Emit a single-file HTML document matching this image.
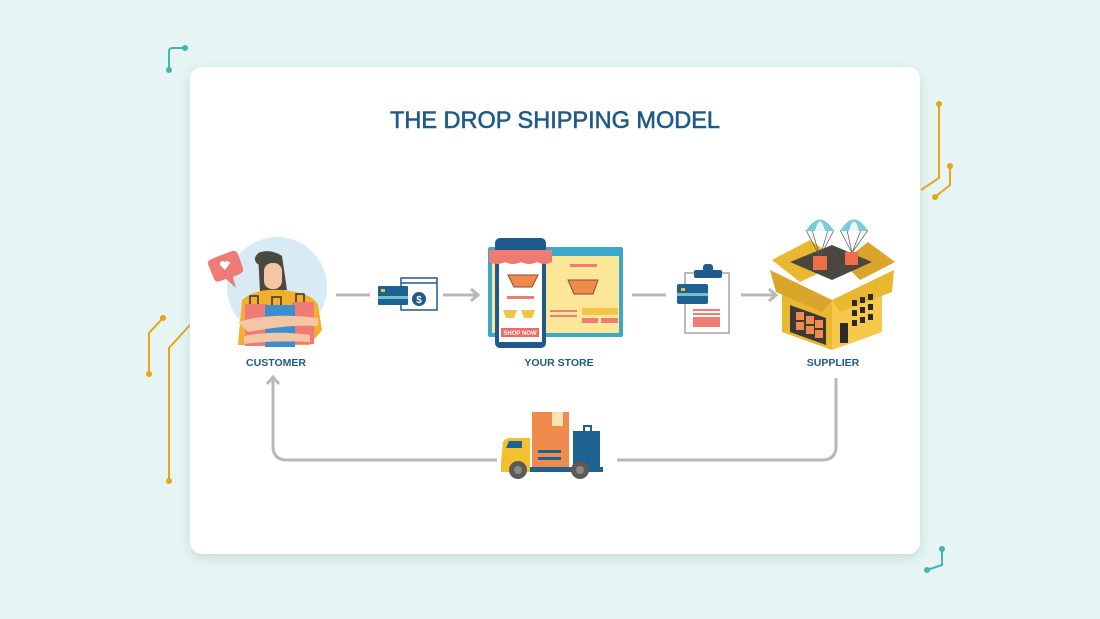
<!DOCTYPE html>
<html><head><meta charset="utf-8"><style>
html,body{margin:0;padding:0;background:#e6f5f3;}
svg{display:block}
text{font-family:"Liberation Sans",sans-serif;font-weight:bold;fill:#1f5a8a}
</style></head><body>
<svg width="1100" height="619" viewBox="0 0 1100 619" xmlns="http://www.w3.org/2000/svg">
<defs>
<filter id="sh" x="-5%" y="-5%" width="110%" height="115%"><feDropShadow dx="0" dy="4" stdDeviation="6" flood-color="#8aa" flood-opacity="0.35"/></filter>
</defs>
<rect x="0" y="0" width="1100" height="619" rx="14" fill="#e6f5f3"/>
<g fill="none" stroke-width="2">
<path d="M185 48 H172 Q169 48 169 52 V70" stroke="#43b5ad"/>
<path d="M939 104 V178 L921 190" stroke="#e8a317"/>
<path d="M950 166 V185 L935 197" stroke="#e8a317"/>
<path d="M163 318 L149 333 V374" stroke="#e8a317"/>
<path d="M190 325 L169 348 V481" stroke="#e8a317"/>
<path d="M942 548 V565 L927 570" stroke="#43b5ad"/>
</g>
<g fill="#43b5ad"><circle cx="185" cy="48" r="3"/><circle cx="169" cy="70" r="3"/><circle cx="942" cy="549" r="3"/><circle cx="927" cy="570" r="3"/></g>
<g fill="#e8a317"><circle cx="939" cy="104" r="3"/><circle cx="950" cy="166" r="3"/><circle cx="935" cy="197" r="3"/><circle cx="163" cy="318" r="3"/><circle cx="149" cy="374" r="3"/><circle cx="169" cy="481" r="3"/></g>
<rect x="190" y="67" width="730" height="487" rx="12" fill="#fff" filter="url(#sh)"/>
<text x="390" y="128" font-size="24" textLength="330" lengthAdjust="spacingAndGlyphs" style="font-weight:normal" stroke="#1f5a8a" stroke-width="0.6">THE  DROP SHIPPING  MODEL</text>
<g stroke="#b8b8b8" stroke-width="3" fill="none">
<path d="M336 295 H370"/><path d="M443 295 H478"/><path d="M471 289 L478 295 L471 301"/>
<path d="M632 295 H666"/><path d="M741 295 H776"/><path d="M769 289 L776 295 L769 301"/>
<path d="M836 378 V446 Q836 460 822 460 H617"/>
<path d="M497 460 H287 Q273 460 273 446 V377"/><path d="M267 384 L273 377 L279 384"/>
</g>
<circle cx="277" cy="287" r="50" fill="#d8ebf4"/>
<path d="M214 258 L232 251 Q236 250 238 254 L243 268 Q244 272 240 274 L233 277 L236 288 L226 279 L220 281 Q216 283 214 279 L208 264 Q207 260 214 258Z" fill="#ee7b74"/>
<path d="M225 270 l-5 -5 a3 3 0 0 1 5 -3 a3 3 0 0 1 5 1 z" fill="#fff"/>
<path d="M258 253 Q270 248 282 256 L287 290 L260 292 Z" fill="#4b4842"/>
<circle cx="261" cy="259" r="6" fill="#4b4842"/>
<rect x="264" y="263" width="18" height="26" rx="8" fill="#f4c6a6"/>
<path d="M238 345 L242 300 Q256 288 280 290 Q312 292 318 305 L322 330 L310 345Z" fill="#f3ae2d"/>
<rect x="245" y="304" width="22" height="42" fill="#ee7b74"/>
<rect x="292" y="302" width="22" height="42" fill="#ee7b74"/>
<rect x="265" y="305" width="30" height="42" fill="#3b8fce"/>
<g stroke="#333" stroke-width="1.5" fill="none"><path d="M250 304 v-8 h8 v8"/><path d="M272 305 v-8 h9 v8"/><path d="M296 302 v-8 h8 v8"/></g>
<path d="M238 322 Q270 312 318 318 L318 326 Q290 324 248 332Z" fill="#f4c6a6"/>
<path d="M244 336 Q275 330 310 335 L310 342 Q275 340 244 344Z" fill="#f4c6a6"/>
<text x="276" y="366" text-anchor="middle" font-size="10.5">CUSTOMER</text>
<rect x="401" y="278" width="36" height="32" fill="#fff" stroke="#1f5a8a" stroke-width="1.5"/>
<line x1="401" y1="283" x2="437" y2="283" stroke="#1f5a8a" stroke-width="1.5"/>
<circle cx="419" cy="299" r="7" fill="#1f5a8a"/>
<text x="419" y="303" text-anchor="middle" font-size="10" style="fill:#fff">$</text>
<rect x="378" y="286" width="30" height="19" rx="1" fill="#1f6291"/>
<rect x="378" y="296" width="30" height="3" fill="#6cc4c9"/>
<rect x="381" y="289" width="4" height="3" fill="#f3c130"/>
<rect x="488" y="247" width="135" height="90" rx="2" fill="#3da7c8"/>
<rect x="492" y="256" width="127" height="77" fill="#fbe797"/>
<rect x="495" y="238" width="51" height="110" rx="5" fill="#1f5a8a"/>
<rect x="499" y="252" width="43" height="90" fill="#fff"/>
<path d="M489 250 H552 V262 Q544 266 537 262 Q529 266 521 262 Q513 266 505 262 Q497 266 489 262Z" fill="#ee7b74"/>
<path d="M508 275 H538 L532 287 H514Z" fill="#f08b4e" stroke="#8a4a2a"/>
<rect x="507" y="296" width="27" height="3" fill="#ee7b74"/>
<path d="M503 310 H517 L514 318 H506Z" fill="#f3c34a"/><path d="M521 310 H535 L532 318 H524Z" fill="#f3c34a"/>
<rect x="501" y="328" width="38" height="9" fill="#ee6b64"/>
<text x="520" y="335" text-anchor="middle" font-size="6" style="fill:#fff">SHOP NOW</text>
<rect x="570" y="264" width="27" height="3" fill="#ee7b74"/>
<path d="M568 280 H598 L593 294 H574Z" fill="#f08b4e" stroke="#8a4a2a"/>
<rect x="550" y="310" width="27" height="2" fill="#ee7b74"/><rect x="550" y="315" width="27" height="2" fill="#ee7b74"/>
<rect x="582" y="308" width="36" height="7" fill="#f3c34a"/>
<rect x="582" y="318" width="16" height="5" fill="#ee7b74"/><rect x="601" y="318" width="17" height="5" fill="#ee7b74"/>
<text x="559" y="366" text-anchor="middle" font-size="10.5">YOUR STORE</text>
<rect x="685" y="273" width="44" height="60" fill="#fff" stroke="#bbb" stroke-width="2"/>
<rect x="694" y="270" width="28" height="8" rx="2" fill="#1f5a8a"/><rect x="703" y="264" width="10" height="8" rx="3" fill="#1f5a8a"/>
<rect x="677" y="284" width="31" height="20" rx="2" fill="#1f6291"/>
<rect x="677" y="293" width="31" height="3" fill="#6cc4c9"/><rect x="681" y="288" width="4" height="3" fill="#f3c130"/>
<rect x="693" y="309" width="27" height="2" fill="#ee7b74"/><rect x="693" y="313" width="27" height="2" fill="#ee7b74"/><rect x="693" y="317" width="27" height="10" fill="#ee7b74"/>
<path d="M772 260 L810 240 L842 262 L800 282Z" fill="#e9b730"/>
<path d="M842 262 L868 242 L895 262 L860 280Z" fill="#d9a52a"/>
<path d="M790 262 L832 245 L872 262 L832 280Z" fill="#4a4640"/>
<path d="M782 282 L832 300 L832 350 L782 332Z" fill="#e9b730"/>
<path d="M832 300 L882 282 L882 332 L832 350Z" fill="#f6c94a"/>
<path d="M770 270 L832 300 L822 312 L776 292Z" fill="#d9a52a"/>
<path d="M894 270 L832 300 L840 312 L892 292Z" fill="#e9b730"/>
<path d="M790 305 L826 318 L826 345 L790 332Z" fill="#3d3a35"/>
<g fill="#f08b4e"><rect x="796" y="312" width="8" height="8"/><rect x="806" y="316" width="8" height="8"/><rect x="815" y="320" width="8" height="8"/><rect x="796" y="322" width="8" height="8"/><rect x="806" y="326" width="8" height="8"/><rect x="815" y="330" width="8" height="8"/></g>
<g fill="#2b2a28"><rect x="852" y="300" width="5" height="6"/><rect x="860" y="297" width="5" height="6"/><rect x="868" y="294" width="5" height="6"/><rect x="852" y="310" width="5" height="6"/><rect x="860" y="307" width="5" height="6"/><rect x="868" y="304" width="5" height="6"/><rect x="852" y="320" width="5" height="6"/><rect x="860" y="317" width="5" height="6"/><rect x="868" y="314" width="5" height="6"/><rect x="840" y="323" width="8" height="20"/></g>
<g stroke="#555" stroke-width="0.7" fill="none"><path d="M806 230 L820 257 L834 230"/><path d="M812 230 L820 257 L828 230"/><path d="M840 230 L852 253 L868 230"/><path d="M847 230 L852 253 L861 230"/></g>
<path d="M806 231 Q820 208 834 231Z" fill="#7ccbd8"/><path d="M840 231 Q854 208 868 231Z" fill="#7ccbd8"/>
<path d="M815 231 Q820 212 825 231Z" fill="#e8f6f8"/><path d="M849 231 Q854 212 859 231Z" fill="#e8f6f8"/>
<rect x="813" y="256" width="14" height="14" fill="#ee6e4a"/><rect x="845" y="252" width="13" height="13" fill="#ee6e4a"/>
<text x="833" y="366" text-anchor="middle" font-size="10.5">SUPPLIER</text>
<rect x="532" y="412" width="37" height="57" fill="#f08b4e"/>
<rect x="552" y="412" width="11" height="14" fill="#f9e3b0"/>
<rect x="573" y="431" width="27" height="38" fill="#1f6291"/>
<path d="M584 431 v-5 h7 v5" stroke="#1f6291" stroke-width="2" fill="none"/>
<rect x="538" y="450" width="23" height="3" fill="#1f6291"/><rect x="538" y="457" width="23" height="3" fill="#1f6291"/>
<path d="M501 462 L503 442 Q505 438 510 438 H530 V472 H501Z" fill="#f3c130"/>
<path d="M506 448 L509 441 H522 V448Z" fill="#1f6291"/>
<rect x="530" y="467" width="73" height="5" fill="#1f6291"/>
<circle cx="518" cy="470" r="9" fill="#5c5a57"/><circle cx="518" cy="470" r="4" fill="#888"/>
<circle cx="580" cy="470" r="9" fill="#5c5a57"/><circle cx="580" cy="470" r="4" fill="#888"/>
</svg>
</body></html>
